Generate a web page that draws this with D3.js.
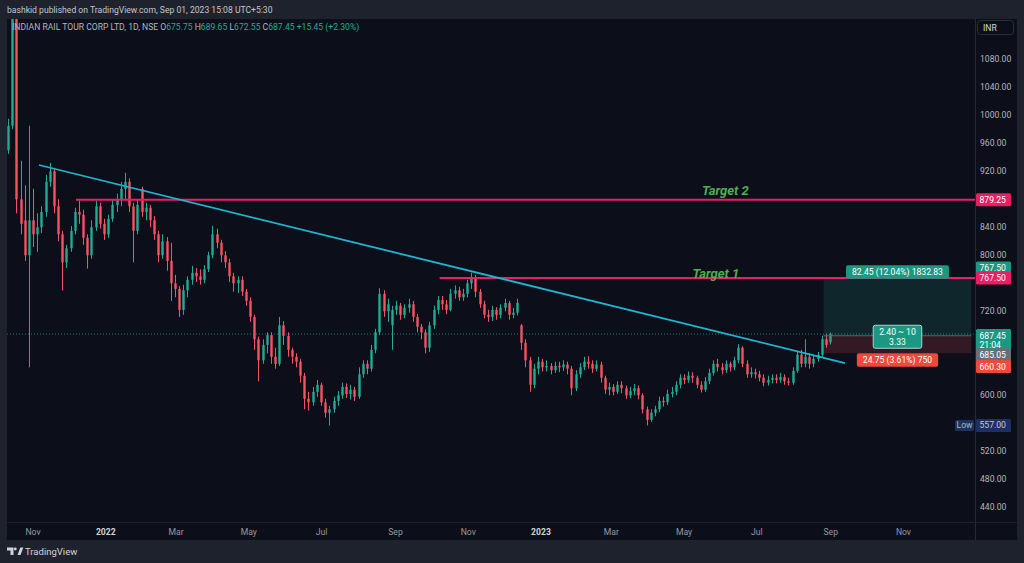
<!DOCTYPE html>
<html><head><meta charset="utf-8">
<script src="https://cdn.jsdelivr.net/npm/d3@7"></script>
<style>html,body{margin:0;padding:0;background:#1e222d;overflow:hidden}svg{display:block}</style>
</head><body><svg id="c" width="1024" height="563"></svg>
<script>
// ---------- data (one candle ≈ 3.5 calendar days) ----------
const candleStart = "2021-10-11";
const candleStepHours = 84;
const opens = [950,985,1150,880,850,800,850,830,840,862,905,920,870,830,790,810,835,862,858,825,800,840,870,845,830,852,872,880,895,905,870,835,895,862,868,850,830,800,820,792,760,752,722,750,765,775,770,765,780,800,830,818,800,790,770,760,765,748,735,712,680,650,672,686,655,645,700,685,665,655,648,628,595,590,605,615,590,575,580,592,600,612,602,608,598,630,645,638,665,690,745,720,700,722,728,715,725,730,712,698,690,668,700,722,736,730,722,745,750,740,745,760,768,748,730,715,712,722,715,725,732,715,718,700,675,650,615,638,648,640,642,636,642,640,644,638,610,630,640,648,645,638,644,625,608,612,605,615,610,600,606,610,600,580,565,575,580,592,590,602,605,615,625,622,628,625,615,608,620,632,645,640,636,645,640,650,668,645,630,633,630,625,618,622,625,622,626,620,618,635,658,645,655,645,652,658,680,675.75];
const highs = [995,1278,1200,935,900,985,895,860,870,915,932,925,880,835,815,842,868,878,865,830,850,878,875,852,858,880,888,905,918,910,875,880,898,875,872,856,835,830,826,818,772,756,758,770,785,782,780,786,805,842,838,822,806,795,775,770,770,752,740,715,684,680,690,690,668,712,706,690,668,660,652,632,605,612,622,618,595,585,598,606,618,617,615,612,640,650,650,672,695,753,750,738,728,735,732,730,738,735,716,702,694,705,728,742,742,736,752,757,755,752,765,775,772,752,735,722,728,726,730,738,735,725,738,702,680,655,645,655,652,650,646,648,648,650,648,642,636,646,655,656,650,650,648,628,618,616,620,620,614,612,616,614,603,584,580,585,598,598,608,612,620,630,630,634,633,628,620,626,638,650,652,646,650,648,655,673,670,650,640,638,635,630,628,630,630,632,630,625,640,663,665,680,660,658,662,685,688,689.65];
const lows = [945,980,860,830,792,640,812,805,832,855,898,860,820,750,782,805,830,845,815,781,795,835,838,822,825,848,862,870,880,862,790,830,855,850,840,822,790,795,778,735,740,712,715,740,758,762,758,760,776,796,810,790,782,762,748,746,742,728,705,665,620,645,660,645,638,642,672,655,645,640,618,580,578,585,598,585,568,557,575,585,595,596,594,592,595,625,630,634,660,686,712,705,665,715,708,710,718,705,690,680,660,662,695,716,722,716,720,738,735,735,740,752,740,725,710,705,706,708,710,720,708,710,714,665,640,605,610,630,634,634,630,632,633,635,630,600,606,625,636,638,632,634,618,602,600,600,602,603,595,596,600,594,574,557,562,570,576,584,586,597,600,610,616,618,618,610,604,605,616,628,634,630,632,634,636,646,640,625,625,624,620,613,614,617,617,618,615,614,615,632,640,640,638,640,648,655,668,672.55];
const closes = [985,1150,880,845,800,850,830,840,862,905,920,870,830,790,810,835,862,858,825,800,840,870,845,830,852,872,880,895,905,870,835,872,862,868,850,830,800,820,792,760,752,722,750,765,775,770,765,780,800,830,818,800,790,770,760,765,748,735,712,680,650,672,686,655,645,700,685,665,655,648,628,595,590,605,615,590,575,580,592,600,612,602,608,598,630,645,638,665,690,745,720,730,722,728,715,725,730,712,698,690,668,700,722,736,730,722,745,750,740,745,760,768,748,730,715,712,722,715,725,732,715,718,732,675,650,615,638,648,640,642,636,642,640,644,638,610,630,640,648,645,638,644,625,608,612,605,615,610,600,606,610,600,580,565,575,580,592,590,602,605,615,625,622,628,625,615,608,620,632,645,640,636,645,640,650,668,645,630,633,630,625,618,622,625,622,626,620,618,635,658,645,655,645,652,658,680,672,687.45];

const priceTicks = [1080,1040,1000,960,920,840,800,720,600,520,480,440];
const timeTicks = ["2021-11-01","2022-01-01","2022-03-01","2022-05-01","2022-07-01","2022-09-01","2022-11-01","2023-01-01","2023-03-01","2023-05-01","2023-07-01","2023-09-01","2023-11-01"];
const timeTickLabels = ["Nov","2022","Mar","May","Jul","Sep","Nov","2023","Mar","May","Jul","Sep","Nov"];

const trendDates = ["2021-11-06","2023-09-13"];
const trendValues = [929,646];
const target2 = {start:"2021-12-07", value:879.25, label:"Target 2", labelDate:"2023-05-16", labelValue:886};
const target1 = {start:"2022-10-08", value:767.50, label:"Target 1", labelDate:"2023-05-08", labelValue:768};
const position = {start:"2023-08-26", end:"2023-12-28", entry:685.05, target:767.50, stop:660.30,
  profitText:"82.45 (12.04%) 1832.83", ratioText:["2.40 ~ 10","3.33"], lossText:"24.75 (3.61%) 750"};
const lastClose = 687.45, lowValue = 557.00;
const legend = {name:"INDIAN RAIL TOUR CORP LTD, 1D, NSE", O:"675.75", H:"689.65", L:"672.55", C:"687.45", chg:"+15.45 (+2.30%)"};

// ---------- drawing ----------
const FONT = "Roboto, 'Noto Sans', sans-serif";
const UP = "#22ab94", DOWN = "#f7525f", PINK = "#e91e63", CYAN = "#1fb5d1";
const parse = d3.utcParse("%Y-%m-%d");
const svg = d3.select("#c").style("font-family", FONT);
const plot = {x0:7, x1:975, y0:19, y1:522};

const x = d3.scaleUtc().domain([parse("2021-10-11"), parse("2023-12-31")]).range([8, 975]);
const y = d3.scaleLinear().domain([440, 1080]).range([507.3, 59.3]);

// backgrounds
svg.append("rect").attr("width",1024).attr("height",563).attr("fill","#1e222d");
svg.append("rect").attr("x",7).attr("y",19).attr("width",1010).attr("height",521).attr("fill","#0c0f19");
svg.append("line").attr("x1",plot.x1+0.5).attr("x2",plot.x1+0.5).attr("y1",19).attr("y2",540).attr("stroke","#252936");
svg.append("line").attr("x1",7).attr("x2",1017).attr("y1",plot.y1+0.5).attr("y2",plot.y1+0.5).attr("stroke","#1c202a");

// header
svg.append("text").attr("x",7).attr("y",12.5).attr("fill","#c3c6ce").attr("font-size",8.6)
  .text("bashkid published on TradingView.com, Sep 01, 2023 15:08 UTC+5:30");

svg.append("defs").append("clipPath").attr("id","clip").append("rect")
  .attr("x",plot.x0).attr("y",plot.y0).attr("width",plot.x1-plot.x0).attr("height",plot.y1-plot.y0);
const g = svg.append("g").attr("clip-path","url(#clip)");

// candles
const start = parse(candleStart);
const candles = closes.map((c,i)=>({date:d3.utcHour.offset(start, i*candleStepHours), o:opens[i], h:highs[i], l:lows[i], c}));
const cg = g.append("g");
cg.selectAll("line.w").data(candles).join("line")
  .attr("x1",d=>Math.round(x(d.date))+0.5).attr("x2",d=>Math.round(x(d.date))+0.5)
  .attr("y1",d=>y(d.h)).attr("y2",d=>y(d.l))
  .attr("stroke",d=>d.c>=d.o?UP:DOWN).attr("stroke-width",1);
cg.selectAll("rect.b").data(candles).join("rect")
  .attr("x",d=>Math.round(x(d.date))-0.7).attr("width",2.4)
  .attr("y",d=>y(Math.max(d.o,d.c))).attr("height",d=>Math.max(1,Math.abs(y(d.o)-y(d.c))))
  .attr("fill",d=>d.c>=d.o?UP:DOWN);

// last price dotted line
g.append("line").attr("x1",plot.x0).attr("x2",plot.x1).attr("y1",y(lastClose)).attr("y2",y(lastClose))
  .attr("stroke",UP).attr("stroke-width",1).attr("stroke-dasharray","1,2").attr("opacity",0.7);

// position tool
const px0 = x(parse(position.start)), px1 = x(parse(position.end));
g.append("rect").attr("x",px0).attr("width",px1-px0).attr("y",y(position.target)).attr("height",y(position.entry)-y(position.target))
  .attr("fill","rgba(34,171,148,0.16)");
g.append("rect").attr("x",px0).attr("width",px1-px0).attr("y",y(position.entry)).attr("height",y(position.stop)-y(position.entry))
  .attr("fill","rgba(247,82,95,0.16)");
g.append("line").attr("x1",px0).attr("x2",px1).attr("y1",y(position.entry)).attr("y2",y(position.entry)).attr("stroke","#5d606b").attr("stroke-width",1);

// horizontal target lines
[target2, target1].forEach(t=>{
  g.append("line").attr("x1",x(parse(t.start))).attr("x2",plot.x1).attr("y1",y(t.value)).attr("y2",y(t.value))
    .attr("stroke",PINK).attr("stroke-width",2);
  g.append("text").attr("x",x(parse(t.labelDate))).attr("y",y(t.labelValue)).attr("fill","#4caf50")
    .attr("font-size",13).attr("font-weight","bold").attr("font-style","italic").text(t.label);
});

// trendline
g.append("line").attr("x1",x(parse(trendDates[0]))).attr("y1",y(trendValues[0]))
  .attr("x2",x(parse(trendDates[1]))).attr("y2",y(trendValues[1]))
  .attr("stroke",CYAN).attr("stroke-width",1.8);

// position labels
function boxLabel(lines, cx, cy, fill, stroke){
  const gg = svg.append("g");
  const lh = 9.5;
  const texts = lines.map((s,i)=>gg.append("text").attr("x",cx).attr("y",cy - (lines.length-1)*lh/2 + i*lh + 3.2)
    .attr("text-anchor","middle").attr("fill","#ffffff").attr("font-size",8.6).text(s));
  const w = d3.max(texts, t=>t.node().getComputedTextLength()) + 12;
  const h = lines.length*lh + 4;
  gg.insert("rect","text").attr("x",cx-w/2).attr("y",cy-h/2).attr("width",w).attr("height",h).attr("rx",2)
    .attr("fill",fill).attr("stroke",stroke||"none").attr("stroke-width",1);
}
const pcx = (px0+px1)/2;
boxLabel([position.profitText], pcx, y(position.target)-6, "#1a9882");
boxLabel(position.ratioText, pcx, y(position.entry)+1, "#1a9882", "#a9d8cf");
boxLabel([position.lossText], pcx, y(position.stop)+7, "#f0473f");

// price axis tick labels
svg.append("g").selectAll("text").data(priceTicks).join("text")
  .attr("x",980).attr("y",d=>y(d)+3).attr("fill","#b2b5be").attr("font-size",8.6).text(d=>d.toFixed(2));

// price axis value labels
function axisLabel(lines, cy, fill, color){
  const h = lines.length*9 + 4;
  svg.append("rect").attr("x",976).attr("y",cy-h/2).attr("width",35).attr("height",h).attr("rx",1.5).attr("fill",fill);
  lines.forEach((s,i)=>svg.append("text").attr("x",979.5).attr("y",cy-(lines.length-1)*4.5+i*9+3)
    .attr("fill",color||"#ffffff").attr("font-size",8.6).text(s));
}
axisLabel([target2.value.toFixed(2)], y(target2.value), PINK);
axisLabel([position.target.toFixed(2)], y(position.target)-10, "#1a9882");
axisLabel([target1.value.toFixed(2)], y(target1.value), PINK);
axisLabel([lastClose.toFixed(2),"21:04"], y(lastClose)+6, "#1a9882");
axisLabel([position.entry.toFixed(2)], y(position.entry)+19, "#6a6d78");
axisLabel([position.stop.toFixed(2)], y(position.stop)+13.5, "#f0473f");
// Low label
svg.append("rect").attr("x",955).attr("y",y(lowValue)-5.5).attr("width",19).attr("height",11).attr("rx",1.5).attr("fill","#1c3161");
svg.append("text").attr("x",964.5).attr("y",y(lowValue)+3).attr("text-anchor","middle").attr("fill","#b2b5be").attr("font-size",8.6).text("Low");
axisLabel([lowValue.toFixed(2)], y(lowValue), "#1c3161", "#c3c6ce");

// currency box
svg.append("rect").attr("x",977.5).attr("y",20.5).attr("width",36).attr("height",14).attr("rx",3)
  .attr("fill","#0c0f19").attr("stroke","#2a2e39");
svg.append("text").attr("x",983).attr("y",30.5).attr("fill","#d1d4dc").attr("font-size",8.6).text("INR");

// time axis
svg.append("g").selectAll("text").data(timeTicks).join("text")
  .attr("x",(d,i)=>x(parse(d))).attr("y",535).attr("text-anchor","middle")
  .attr("fill",(d,i)=>/^\d{4}$/.test(timeTickLabels[i])?"#d1d4dc":"#9598a1")
  .attr("font-weight",(d,i)=>/^\d{4}$/.test(timeTickLabels[i])?"bold":"normal")
  .attr("font-size",8.6).text((d,i)=>timeTickLabels[i]);

// legend
const lg = svg.append("text").attr("x",12).attr("y",30).attr("font-size",8.6).attr("fill","#b2b5be");
lg.append("tspan").text(legend.name + "  ");
[["O",legend.O],["H",legend.H],["L",legend.L],["C",legend.C]].forEach(([k,v])=>{
  lg.append("tspan").attr("fill","#b2b5be").text(k);
  lg.append("tspan").attr("fill",UP).text(v+"  ");
});
lg.append("tspan").attr("fill",UP).text(legend.chg);

// footer logo
const lg2 = svg.append("g").attr("fill","#d1d4dc");
lg2.append("path").attr("d","M7 547.5h6.5v7.5h-3v-4.5h-3.5z");
lg2.append("circle").attr("cx",15.3).attr("cy",549).attr("r",1.4);
lg2.append("path").attr("d","M17.5 555l2.8-7.5h3l-2.8 7.5z");
svg.append("text").attr("x",25).attr("y",554.5).attr("fill","#d1d4dc").attr("font-size",9.5).text("TradingView");
</script></body></html>
